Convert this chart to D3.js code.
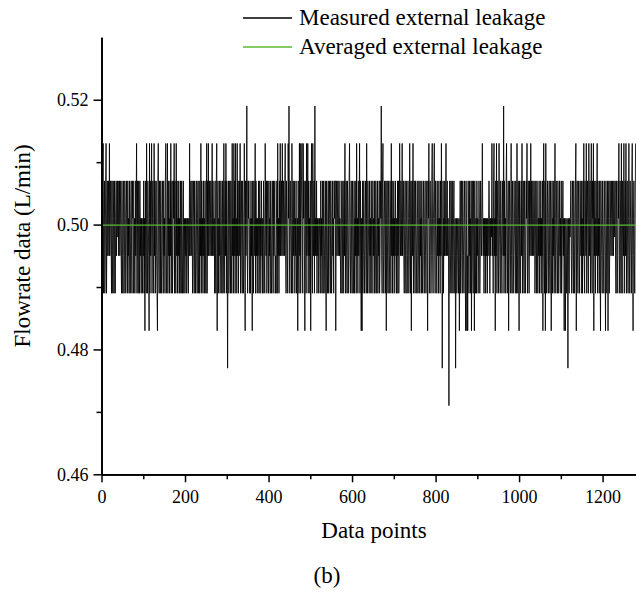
<!DOCTYPE html>
<html>
<head>
<meta charset="utf-8">
<script src="https://cdn.jsdelivr.net/npm/d3@7"></script>
<style>
  body { margin: 0; background: #fff; }
  svg { display: block; font-family: "Liberation Serif", "Times New Roman", serif; }
</style>
</head>
<body>
<svg id="chart"></svg>
<script>
/* Data: flowrate readings are quantised, so each point is stored as a level code */
const levelValues = {
  "0": 0.471, "1": 0.477, "2": 0.483, "3": 0.489, "4": 0.492, "5": 0.495, "6": 0.498,
  "7": 0.501, "8": 0.504, "9": 0.507, "a": 0.513, "b": 0.516, "c": 0.519
};

/* one string per 80 data points (points 0..1279) */
const measuredCodes = [
  "2b59a379359a3795795a5796395397395379589695795975395379359735973957395379539793 57".replace(/ /g, ""),
  "3957a3953973957375375937295 3a53975 2a3957a37953a5937953 29a5397395379539 5739a537a3".replace(/ /g, ""),
  "957395a3793597a3953a593759373953973593573757357537 5a57957935973953795379359375a3".replace(/ /g, ""),
  "957395739537a395a57957957a5975739539a2793759359735935a3795a39517935973953a573a59".replace(/ /g, ""),
  "3a573a593795a379539735a72957c5397953739572953975a39573759359375953739753a7593795".replace(/ /g, ""),
  "3957397359739579353793a57395a5795a759759a539753a7c539753a73957937593572953a5a379".replace(/ /g, ""),
  "a53a7952973a57a39573927a53a7593c575937573576395739539753952973593795397359573".replace(/ /g, "") + "979",
  "92795795795753973593795a3795397359a5379539735937593a573957a395272935973 5973a53975".replace(/ /g, ""),
  "39573953795739359735937593597c539a537953927953973597 3a59375937595373959 35a75975a".replace(/ /g, ""),
  "57953795397359735a7392795a3795397539735973957395379537953795297a3597359a5379a5397539".replace(/ /g, ""),
  "573957395a7159375957a579575079359739537953715735753725937953975397529725297395 73".replace(/ /g, ""),
  "92795397295373957359735975 7a757375737573757973757 6a5739a57295a37953a7539753975c3".replace(/ /g, ""),
  "95739a5379279537a5397359753973a53972953795a37953973597a35973957a5975975973597395".replace(/ /g, ""),
  "37593759375927a5392a53795379539725937593 7a53975397359573935795727527537517537679".replace(/ /g, ""),
  "53795397359a27953975397593739 5a53975a37953a75937a5397a29573957a39573952975397539".replace(/ /g, ""),
  "75297359279359759759759679539735 97a35973a53975a3795a379537a5397539a5279537a53975".replace(/ /g, "")
];
const averagedValue = 0.4999;

const xMajorTicks = [0, 200, 400, 600, 800, 1000, 1200];
const xMinorTicks = [100, 300, 500, 700, 900, 1100];
const yMajorTicks = [0.46, 0.48, 0.50, 0.52];
const yMinorTicks = [0.47, 0.49, 0.51];
const legendLabels = ["Measured external leakage", "Averaged external leakage"];
const seriesColors = ["#000000", "#5dbb36"];

const measured = measuredCodes.join("").slice(0, 1280).split("")
  .map((c, i) => ({ point: i, flow: levelValues[c] }));

/* Chart dimensions */
const W = 636, H = 596;
const plot = { left: 101.5, right: 636, top: 37.3, bottom: 474.3 };

const svg = d3.select("#chart").attr("width", W).attr("height", H);

const x = d3.scaleLinear().domain([0, 1280]).range([plot.left, plot.right]);
const y = d3.scaleLinear().domain([0.46, 0.53]).range([plot.bottom, plot.top]);

/* measured line */
const line = d3.line().x(d => x(d.point)).y(d => y(d.flow));
svg.append("path")
    .datum(measured)
    .attr("fill", "none")
    .attr("stroke", seriesColors[0])
    .attr("stroke-width", 0.85)
    .attr("d", line);

/* averaged line */
svg.append("line")
    .attr("x1", x(0)).attr("x2", x(1280))
    .attr("y1", y(averagedValue)).attr("y2", y(averagedValue))
    .attr("stroke", seriesColors[1])
    .attr("stroke-width", 1.3);

/* axes */
function styleAxis(g) {
  g.selectAll("path.domain").attr("stroke", "#000").attr("stroke-width", 1.7);
  g.selectAll(".tick line").attr("stroke", "#000").attr("stroke-width", 1.5);
  g.selectAll(".tick text").attr("fill", "#000")
    .style("font-family", "'Liberation Serif', 'Times New Roman', serif")
    .style("font-size", "18px");
}

svg.append("g")
    .attr("transform", `translate(0,${plot.bottom})`)
    .call(d3.axisBottom(x).tickValues(xMinorTicks).tickSize(5).tickSizeOuter(0).tickFormat(""))
    .call(styleAxis);
svg.append("g")
    .attr("transform", `translate(0,${plot.bottom})`)
    .call(d3.axisBottom(x).tickValues(xMajorTicks).tickSize(8).tickPadding(8).tickSizeOuter(0).tickFormat(d3.format("d")))
    .call(styleAxis);

svg.append("g")
    .attr("transform", `translate(${plot.left},0)`)
    .call(d3.axisLeft(y).tickValues(yMinorTicks).tickSize(5).tickSizeOuter(0).tickFormat(""))
    .call(styleAxis);
svg.append("g")
    .attr("transform", `translate(${plot.left},0)`)
    .call(d3.axisLeft(y).tickValues(yMajorTicks).tickSize(8).tickPadding(5).tickSizeOuter(0).tickFormat(d3.format(".2f")))
    .call(styleAxis);

/* axis titles */
svg.append("text")
    .attr("x", 374).attr("y", 538)
    .attr("text-anchor", "middle")
    .style("font-size", "23px")
    .text("Data points");

svg.append("text")
    .attr("transform", "translate(30,246) rotate(-90)")
    .attr("text-anchor", "middle")
    .style("font-size", "23px")
    .text("Flowrate data (L/min)");

svg.append("text")
    .attr("x", 327).attr("y", 583)
    .attr("text-anchor", "middle")
    .style("font-size", "23px")
    .text("(b)");

/* legend */
const legend = svg.append("g");
legendLabels.forEach((label, i) => {
  const ly = 18 + i * 29;
  legend.append("line")
      .attr("x1", 243).attr("x2", 292)
      .attr("y1", ly).attr("y2", ly)
      .attr("stroke", seriesColors[i])
      .attr("stroke-width", 1.3);
  legend.append("text")
      .attr("x", 299).attr("y", ly + 7)
      .style("font-size", "23px")
      .text(label);
});
</script>
</body>
</html>
